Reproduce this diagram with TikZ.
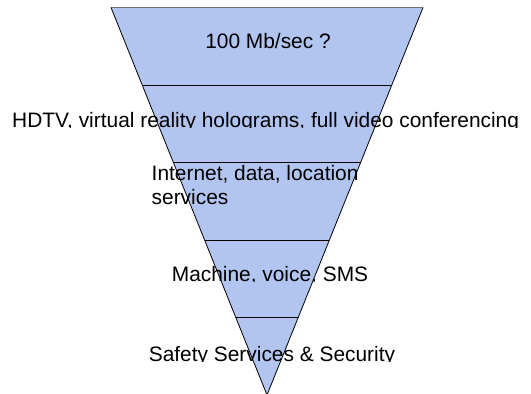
\documentclass[tikz,border=0pt]{standalone}
\usepackage{fontspec}
\setmainfont{Liberation Sans}
\usetikzlibrary{calc}
\definecolor{bandfill}{RGB}{178,197,240}
\definecolor{topedge}{RGB}{110,110,110}
\tikzset{
  lbl/.style={font=\fontsize{20.9}{24}\selectfont, inner sep=0pt, text=black},
  edge/.style={draw=black, line width=0.8pt},
  divider/.style={draw=black, line width=0.8pt}
}
\begin{document}
\begin{tikzpicture}[x=1pt,y=-1pt]
\useasboundingbox (0,0) rectangle (531,394);
\coordinate (tl) at (111,7.5);
\coordinate (tr) at (423,7.5);
\coordinate (ap) at (267,395);
% funnel body
\fill[bandfill] (tl) -- (tr) -- (ap) -- cycle;
% band dividers
\foreach \k in {0.2,0.4,0.6,0.8}{
  \draw[divider] ($(tl)!\k!(ap)$) -- ($(tr)!\k!(ap)$);
}
\draw[topedge, line width=0.8pt] (tl) -- (tr);
\draw[edge, line join=miter] (tr) -- (ap) -- (tl);
% labels
\begin{scope}
  \clip (0,0) rectangle (531,48.5);
  \node[lbl, anchor=base] (l1) at (268,48) {100 Mb/sec ?};
\end{scope}
\begin{scope}
  \clip (0,0) rectangle (531,127.5);
  \node[lbl, anchor=base west] (l2) at (12,127) {HDTV, virtual reality holograms, full video conferencing};
\end{scope}
\node[lbl, anchor=base west, align=left] (l3) at (151.5,204) {Internet, data, location\\services};
\begin{scope}
  \clip (0,0) rectangle (531,281.5);
  \node[lbl, anchor=base] (l4) at (270,281) {Machine, voice, SMS};
\end{scope}
\begin{scope}
  \clip (0,0) rectangle (531,361.5);
  \node[lbl, anchor=base] (l5) at (272,361) {Safety Services \& Security};
\end{scope}
\end{tikzpicture}
\end{document}
